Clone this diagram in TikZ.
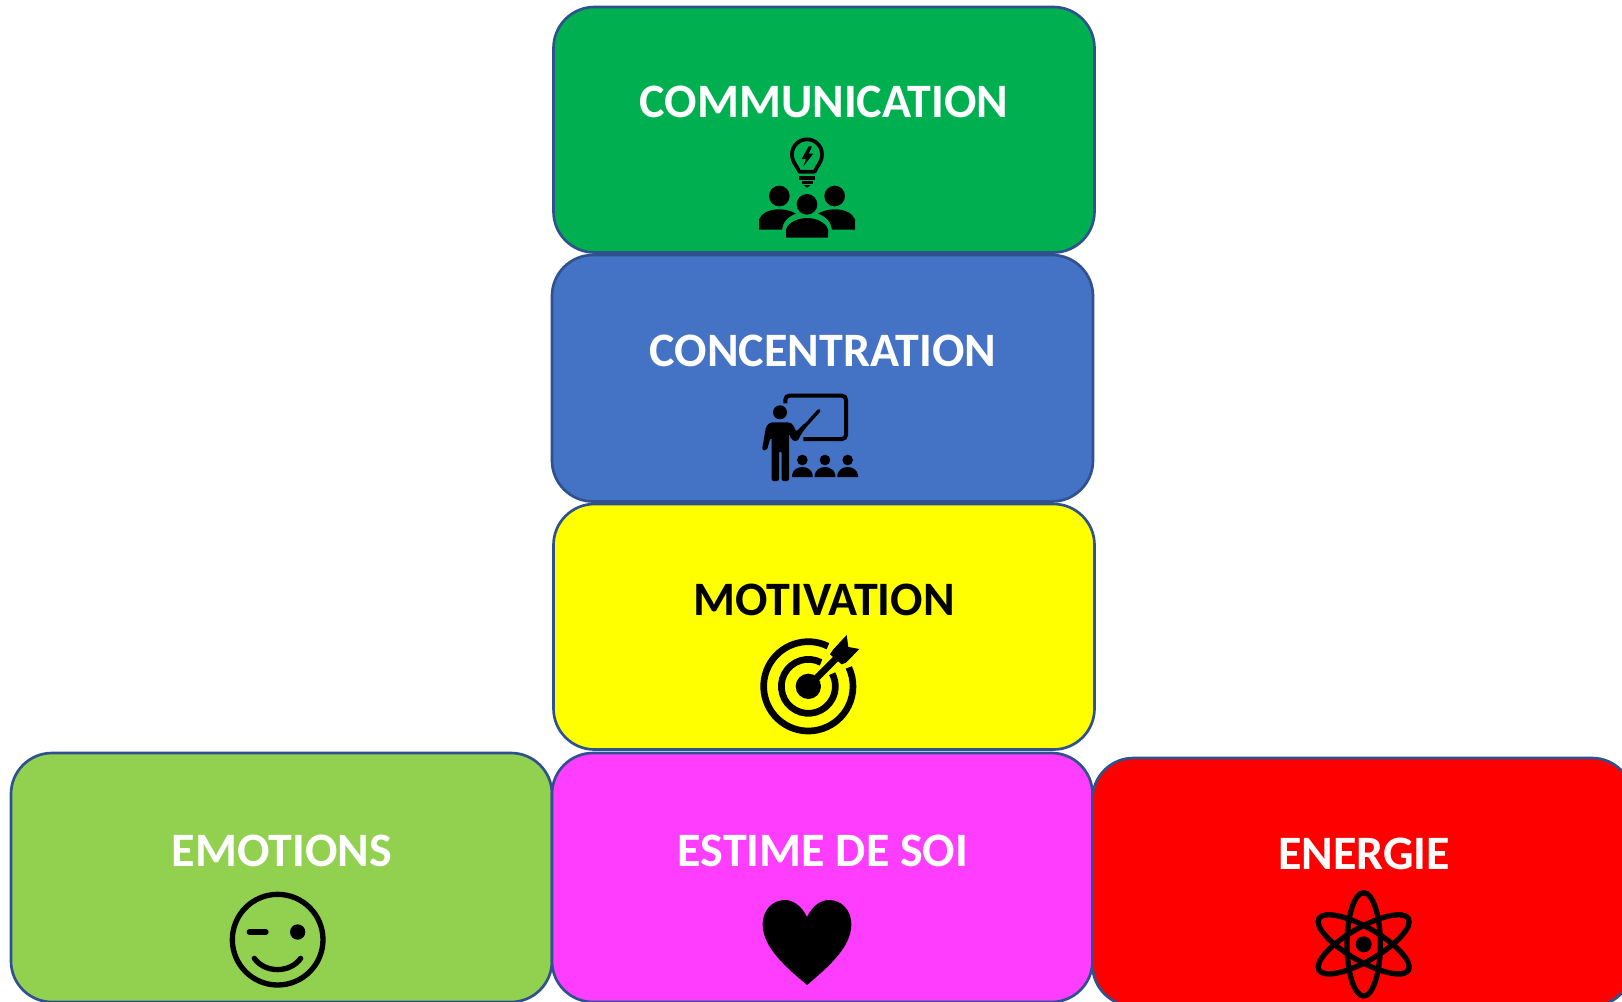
\documentclass[tikz,border=0pt]{standalone}
\usepackage{fontspec}
\setmainfont{Carlito}
\definecolor{cgreen}{HTML}{00B050}
\definecolor{cblue}{HTML}{4472C4}
\definecolor{cyel}{HTML}{FFFF00}
\definecolor{clime}{HTML}{92D050}
\definecolor{cmag}{HTML}{FF3DFF}
\definecolor{cred}{HTML}{FF0000}
\definecolor{cedge}{HTML}{2F528F}
\tikzset{
  tile/.style={draw=cedge,line width=2pt,rounded corners=30.75pt},
  caption/.style={font=\bfseries\fontsize{36}{40}\selectfont,text=white,inner sep=0pt,anchor=center},
  zoomed/.style 2 args={shift={(#1,#2)},x=0.25pt,y=-0.25pt},
}
\begin{document}
\begin{tikzpicture}[x=0.75pt,y=-0.75pt]
\useasboundingbox (0,0) rectangle (1622,1001);
\clip (0,0) rectangle (1622,1001);
\fill[white] (0,0) rectangle (1622,1001);
\path[tile,fill=cgreen] (553.5,7) rectangle (1094.5,252.5);
\path[tile,fill=cblue] (552,255) rectangle (1093,501.5);
\path[tile,fill=cyel] (553.5,504) rectangle (1094.5,749.5);
\path[tile,fill=clime] (11,753) rectangle (552,1002);
\path[tile,fill=cmag] (552,753) rectangle (1092.5,1002);
\path[tile,fill=cred] (1092.5,758) rectangle (1633,1006);
\node[caption] (t1) at (824,102) {COMMUNICATION};
\node[caption] (t2) at (823,350.5) {CONCENTRATION};
\node[caption,text=black] (t3) at (824,600) {MOTIVATION};
\node[caption] (t4) at (282,851) {EMOTIONS};
\node[caption] (t5) at (823,851) {ESTIME DE SOI};
\node[caption] (t6) at (1364,854) {ENERGIE};
% communication icon
\begin{scope}[zoomed={720}{121}]
\draw[line width=2.8pt,line join=round] (238,152) .. controls (232,135) and (216,125) .. (216,100) arc[start angle=180,end angle=360,radius=45] .. controls (306,125) and (290,135) .. (284,152) -- cycle;
\fill (266,76) -- (245,114) -- (258,114) -- (250,136) -- (280,98) -- (266,98) -- (276,76) -- cycle;
\fill (238,166) -- (285,166) -- (285,176) -- (238,176) -- cycle;
\fill (245,180) -- (278,180) -- (278,188) -- (245,188) -- cycle;
\fill (250,192) -- (272,192) -- (261,200) -- cycle;
\fill (178,225) circle (31);
\fill (344,225) circle (31);
\fill (117,326) -- (117,295) .. controls (125,275) and (150,265) .. (178,265) .. controls (197,265) and (215,270) .. (228,278) .. controls (205,285) and (187,305) .. (186,326) -- cycle;
\fill (405,326) -- (405,295) .. controls (397,275) and (372,265) .. (344,265) .. controls (325,265) and (307,270) .. (294,278) .. controls (317,285) and (335,305) .. (336,326) -- cycle;
\fill (261,250) circle (31);
\fill (198,350) -- (198,325) .. controls (205,305) and (232,291) .. (261,291) .. controls (290,291) and (317,305) .. (324,325) -- (324,350) -- cycle;
\end{scope}
% concentration icon
\begin{scope}[zoomed={740}{380}]
\draw[line width=3pt,rounded corners=3pt] (136,70) -- (136,47) -- (318,47) -- (318,177) -- (190,177);
\fill (120,97) circle (21);
\fill[rounded corners=1.5pt] (95,303) -- (95,172) -- (92,172) -- (80,212) -- (66,210) -- (78,140) -- (90,127) -- (150,127) -- (160,135) -- (169,155) -- (195,128) -- (203,135) -- (182,165) -- (172,185) -- (155,180) -- (147,160) -- (147,303) -- (125,303) -- (125,214) -- (117,214) -- (117,303) -- cycle;
\draw[line width=2.5pt,line cap=round] (175,160) -- (237,92);
\foreach \c in {187,255,323}{
  \fill (\c,240) circle (16);
  \fill (\c-31,291) -- (\c-31,284) .. controls (\c-28,270) and (\c-15,261) .. (\c,261) .. controls (\c+15,261) and (\c+28,270) .. (\c+31,284) -- (\c+31,291) -- cycle;
}
\end{scope}
% motivation icon
\begin{scope}[zoomed={740}{621}]
\draw[line width=5pt] ({205+134*cos(64)},{196-134*sin(64)}) arc[start angle=-64,delta angle=-321,radius=134];
\draw[line width=5pt] ({205+81*cos(62)},{196-81*sin(62)}) arc[start angle=-62,delta angle=-326,radius=81];
\fill (205,196) circle (38);
\draw[line width=5pt] (205,196) -- (293,108);
\fill (280,85) -- (320,42) -- (325,78) -- (358,84) -- (318,125) -- (305,130) -- (270,100) -- cycle;
\end{scope}
% emotions icon
\begin{scope}[zoomed={210}{881}]
\draw[line width=4pt] (203,176) circle (136);
\draw[line width=4pt,line cap=round] (118,153) -- (168,153);
\fill (263,153) circle (23);
\draw[line width=4pt,line cap=round] (133,232) .. controls (165,277) and (240,277) .. (272,232);
\end{scope}
% heart icon
\begin{scope}[zoomed={750}{891}]
\fill (171,78) .. controls (155,45) and (130,27) .. (105,27) .. controls (65,27) and (38,60) .. (38,100) .. controls (38,170) and (110,230) .. (171,282) .. controls (232,230) and (304,170) .. (304,100) .. controls (304,60) and (277,27) .. (237,27) .. controls (212,27) and (187,45) .. (171,78) -- cycle;
\end{scope}
% energy icon
\begin{scope}[zoomed={1290}{871}]
\foreach \a in {0,60,120}{
  \draw[line width=4pt,rotate around={\a:(221,220)}] (221,220) ellipse (50 and 155);
}
\fill (221,220) circle (24);
\end{scope}
\end{tikzpicture}
\end{document}
